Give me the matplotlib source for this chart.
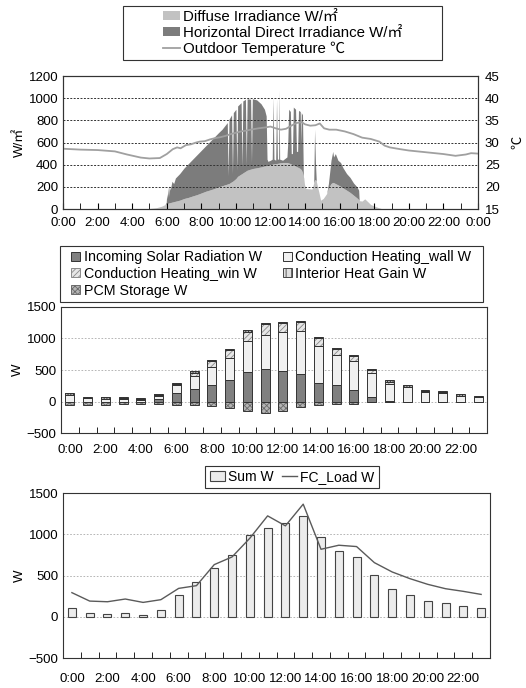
import matplotlib
matplotlib.use("Agg")
import matplotlib.pyplot as plt
from matplotlib.patches import Patch, Rectangle
from matplotlib.lines import Line2D
import numpy as np

plt.rcParams['font.family'] = ['Liberation Sans', 'Noto Sans CJK JP', 'DejaVu Sans']
plt.rcParams['hatch.linewidth'] = 0.6

# ---- panel 1: irradiance (W/m2) and outdoor temperature ----
irr_hour = [0.0, 4.7, 5.0, 5.4, 5.7, 5.9, 5.97, 6.0, 6.03, 6.07, 6.1, 6.15, 6.2, 6.3, 6.4, 6.5,
            6.75, 7.0, 7.25, 7.5, 7.75, 8.0, 8.25, 8.5, 8.75, 9.0, 9.2, 9.4, 9.5, 9.55, 9.6, 9.75,
            9.8, 9.85, 10.0, 10.05, 10.1, 10.3, 10.35, 10.4, 10.55, 10.6, 10.65, 10.85, 10.9, 10.95,
            11.2, 11.45, 11.65, 11.75, 11.8, 11.85, 12.0, 12.1, 12.15, 12.2, 12.3, 12.35, 12.4,
            12.47, 12.5, 12.53, 12.7, 12.95, 13.0, 13.05, 13.15, 13.2, 13.27, 13.32, 13.45, 13.5,
            13.57, 13.62, 13.72, 13.75, 13.78, 13.85, 13.9, 13.97, 14.05, 14.4, 14.5, 14.55, 14.6,
            14.65, 14.8, 14.9, 15.05, 15.25, 15.35, 15.5, 15.6, 15.65, 15.75, 15.9, 16.05, 16.2,
            16.4, 16.6, 16.8, 17.0, 17.1, 17.13, 17.3, 17.45, 17.6, 17.8, 18.2, 18.5, 24.0]
diffuse = [0, 0, 5, 12, 25, 40, 45, 48, 50, 52, 54, 56, 58, 62, 66, 70,
           80, 95, 105, 118, 130, 145, 160, 172, 185, 200, 210, 220, 225, 228, 230, 245,
           250, 255, 275, 285, 295, 315, 320, 325, 340, 345, 350, 360, 362, 365,
           372, 380, 388, 390, 392, 395, 400, 404, 406, 408, 410, 411, 412,
           414, 415, 416, 420, 420, 418, 415, 410, 405, 400, 397, 388, 383,
           378, 374, 365, 360, 355, 330, 290, 220, 185, 180, 235, 260, 265,
           250, 150, 80, 95, 140, 190, 230, 240, 238, 230, 218, 205, 190,
           170, 150, 125, 100, 85, 75, 72, 92, 70, 40, 15, 0, 0]
# top of the direct irradiance band (diffuse + direct)
irr_top = [0, 0, 5, 12, 25, 40, 60, 140, 90, 200, 110, 210, 170, 250, 230, 280,
           320, 370, 410, 450, 490, 530, 570, 610, 650, 690, 720, 760, 780, 300, 810, 850,
           320, 870, 900, 350, 930, 960, 380, 975, 990, 400, 995, 990, 420, 995,
           985, 950, 900, 840, 450, 430, 440, 450, 1010, 450, 440, 990, 450,
           450, 1070, 450, 440, 470, 600, 900, 880, 500, 500, 920, 900, 520,
           520, 890, 880, 600, 870, 850, 300, 220, 185, 180, 235, 720, 420,
           250, 150, 80, 95, 140, 230, 440, 520, 470, 500, 440, 420, 370,
           320, 285, 235, 200, 170, 75, 72, 92, 70, 40, 15, 0, 0]

temp_hour = [0.0, 1.0, 2.0, 3.0, 3.7, 4.5, 5.0, 5.6, 6.0, 6.35, 6.6, 6.8, 7.1, 7.4, 7.7, 7.9,
             8.2, 8.5, 8.8, 9.1, 9.4, 9.7, 10.0, 10.3, 10.6, 11.0, 11.3, 11.7, 12.0, 12.3,
             12.6, 12.9, 13.2, 13.5, 13.8, 14.0, 14.3, 14.6, 14.85, 15.1, 15.4, 15.8, 16.3,
             16.8, 17.3, 17.8, 18.3, 18.6, 18.9, 19.5, 20.0, 21.0, 22.0, 22.7, 23.3, 23.6, 24.0]
temp_out = [28.6, 28.4, 28.3, 28.0, 27.3, 26.6, 26.4, 26.5, 27.4, 28.5, 28.9, 28.7, 29.4, 29.6,
            30.0, 30.2, 30.3, 30.7, 31.0, 31.2, 31.5, 31.9, 32.2, 32.5, 32.7, 33.0, 33.2, 33.4,
            33.6, 33.2, 32.9, 33.1, 33.8, 34.4, 34.6, 34.1, 33.8, 33.9, 34.3, 33.2, 32.9, 32.9,
            32.5, 31.9, 31.1, 30.8, 30.2, 29.3, 28.9, 28.5, 28.2, 27.8, 27.4, 27.0, 27.3, 27.6, 27.5]

# ---- panel 2: hourly heat balance (W) ----
hours = list(range(24))
hour_labels = [f"{h}:00" if h % 2 == 0 else "" for h in hours]
solar_in = [0, 0, 0, 0, 0, 40, 140, 200, 265, 335, 475, 520, 485, 430, 300, 255, 185, 70, 15, 0, 0, 0, 0, 0]
cond_wall = [100, 50, 40, 45, 30, 45, 120, 210, 280, 360, 480, 535, 620, 685, 580, 490, 460, 385, 265, 225, 155, 140, 90, 70]
cond_win = [10, 5, 5, 5, 3, 15, 15, 50, 95, 120, 155, 175, 135, 145, 120, 90, 80, 45, 35, 10, 5, 5, 5, 5]
interior = [25, 20, 20, 20, 20, 20, 20, 20, 20, 25, 25, 20, 25, 25, 20, 20, 20, 20, 20, 25, 25, 25, 22, 20]
pcm_store = [-50, -50, -50, -45, -45, -45, -50, -60, -75, -100, -145, -185, -145, -90, -55, -45, -35, -15, -10, -5, -5, -5, -5, -5]

# ---- panel 3: sum vs FC load (W) ----
sum_w = [101, 40, 32, 40, 24, 85, 259, 421, 595, 753, 996, 1081, 1142, 1219, 972, 798, 721, 502, 336, 267, 190, 170, 126, 101]
fc_load = [292, 190, 182, 215, 174, 207, 344, 377, 632, 725, 952, 1223, 1102, 1365, 818, 867, 851, 656, 543, 462, 393, 340, 308, 271]

W, H = 526, 688
fig = plt.figure(figsize=(W / 100, H / 100), dpi=100)
ax1 = fig.add_axes([0.1198, 0.6962, 0.7889, 0.1933])
ax2 = fig.add_axes([0.116, 0.3706, 0.810, 0.1832])
ax3 = fig.add_axes([0.1198, 0.0436, 0.8118, 0.2398])

fs = 9.5
ec = '#333333'


def legend_frame(x0, y0, x1, y1):
    # legend box drawn at pixel coords of the reference
    fig.patches.append(Rectangle((x0 / W, 1 - y1 / H), (x1 - x0) / W, (y1 - y0) / H,
                                 transform=fig.transFigure, fill=False, edgecolor=ec, lw=0.8))
    return ((x0 + x1) / 2 / W, 1 - (y0 + y1) / 2 / H)


def style_spines(a):
    for s in a.spines.values():
        s.set_linewidth(0.8)
        s.set_color(ec)


# panel 1
diff = np.array(diffuse)
top = np.array(irr_top)
ax1.fill_between(irr_hour, 0, diff, color='#c2c2c2', lw=0)
ax1.fill_between(irr_hour, diff, top, color='#7c7c7c', lw=0)
ax1.set_xlim(0, 24)
ax1.set_ylim(0, 1200)
ax1.set_yticks(range(0, 1201, 200))
ax1.set_xticks(range(0, 25, 2))
ax1.set_xticklabels([f"{h % 24}:00" for h in range(0, 25, 2)])
ax1.set_xticks(range(0, 25), minor=True)
ax1.tick_params(axis='x', which='both', direction='in', length=4, labelsize=fs, pad=6)
ax1.tick_params(axis='y', length=0, labelsize=fs)
for y in range(200, 1201, 200):
    ax1.axhline(y, color='#333333', lw=0.7, ls=(0, (2, 1.5)), zorder=1.5)
ax1.set_ylabel("W/㎡", fontsize=fs, labelpad=2)
ax1t = ax1.twinx()
ax1t.plot(temp_hour, temp_out, color='#a0a0a0', lw=1.3)
ax1t.set_ylim(15, 45)
ax1t.set_yticks(range(15, 46, 5))
ax1t.tick_params(axis='y', length=0, labelsize=fs, pad=5)
ax1t.set_ylabel("℃", fontsize=fs, labelpad=9)
style_spines(ax1)
style_spines(ax1t)

c1 = legend_frame(123, 6, 442, 60)
fig.legend(handles=[Patch(facecolor='#c2c2c2', edgecolor='none', label="Diffuse Irradiance W/㎡"),
                    Patch(facecolor='#7c7c7c', edgecolor='none', label="Horizontal Direct Irradiance W/㎡"),
                    Line2D([], [], color='#a0a0a0', lw=1.3, label="Outdoor Temperature ℃")],
           loc='center', bbox_to_anchor=c1, frameon=False, fontsize=10.8,
           handlelength=1.1, handleheight=0.55, handletextpad=0.2, labelspacing=0.12,
           borderpad=0, borderaxespad=0)

# panel 2
bw = 0.5


def hatched_bar(ax, vals, bottom, face, hatch_col, hatch):
    ax.bar(hours, vals, bw, bottom=bottom, color=face, edgecolor=hatch_col, lw=0, hatch=hatch)
    return ax.bar(hours, vals, bw, bottom=bottom, fill=False, edgecolor=ec, lw=0.7)


pos = np.zeros(24)
ax2.bar(hours, solar_in, bw, bottom=pos, color='#808080', edgecolor=ec, lw=0.7)
pos += np.array(solar_in)
ax2.bar(hours, cond_wall, bw, bottom=pos, color='#f0f0f0', edgecolor=ec, lw=0.7)
pos += np.array(cond_wall)
hatched_bar(ax2, cond_win, pos, '#e6e6e6', '#8a8a8a', '//////')
pos += np.array(cond_win)
hatched_bar(ax2, interior, pos, '#b0b0b0', '#222222', '||||||')
hatched_bar(ax2, pcm_store, 0, '#b4b4b4', '#6a6a6a', 'xxxxxx')

ax2.set_xlim(-0.5, 23.5)
ax2.set_ylim(-500, 1500)
ax2.set_yticks(range(-500, 1501, 500))
ax2.set_xticks(hours)
ax2.set_xticklabels(hour_labels)
ax2.set_xticks(np.arange(-0.5, 24, 1), minor=True)
ax2.tick_params(axis='x', which='major', length=0, labelsize=fs, pad=8)
ax2.tick_params(axis='x', which='minor', direction='in', length=4)
ax2.tick_params(axis='y', length=0, labelsize=fs)
for y in (0, 500, 1000):
    ax2.axhline(y, color='#aaaaaa', lw=0.6, ls=(0, (2, 2)), zorder=0)
ax2.set_ylabel("W", fontsize=fs, labelpad=2)
style_spines(ax2)

h_solar = Patch(facecolor='#808080', edgecolor=ec, lw=0.7)
h_wall = Patch(facecolor='#f0f0f0', edgecolor=ec, lw=0.7)
h_win = Patch(facecolor='#e6e6e6', edgecolor='#8a8a8a', lw=0.7, hatch='//////')
h_int = Patch(facecolor='#e0e0e0', edgecolor='#444444', lw=0.7, hatch='|||')
h_pcm = Patch(facecolor='#b4b4b4', edgecolor='#6a6a6a', lw=0.7, hatch='xxxxxx')
c2 = legend_frame(60, 246, 483, 302)
fig.legend(handles=[h_solar, h_win, h_pcm, h_wall, h_int],
           labels=["Incoming Solar Radiation W", "Conduction Heating_win W", "PCM Storage W",
                   "Conduction Heating_wall W", "Interior Heat Gain W"],
           loc='center', bbox_to_anchor=c2, frameon=False, ncol=2, fontsize=10.3,
           handlelength=0.6, handleheight=0.6, handletextpad=0.25, labelspacing=0.2,
           borderpad=0, borderaxespad=0, columnspacing=1.5)

# panel 3
b_sum = ax3.bar(hours, sum_w, 0.45, color='#ececec', edgecolor='#444444', lw=0.8)
l_fc, = ax3.plot(hours, fc_load, color='#5a5a5a', lw=1.0)
ax3.set_xlim(-0.5, 23.5)
ax3.set_ylim(-500, 1500)
ax3.set_yticks(range(-500, 1501, 500))
ax3.set_xticks(hours)
ax3.set_xticklabels(hour_labels)
ax3.set_xticks(np.arange(-0.5, 24, 1), minor=True)
ax3.tick_params(axis='x', which='major', length=0, labelsize=fs, pad=11)
ax3.tick_params(axis='x', which='minor', direction='in', length=4)
ax3.tick_params(axis='y', length=0, labelsize=fs)
for y in (0, 500, 1000):
    ax3.axhline(y, color='#aaaaaa', lw=0.6, ls=(0, (2, 2)), zorder=0)
ax3.set_ylabel("W", fontsize=fs, labelpad=2)
style_spines(ax3)

c3 = legend_frame(205, 466, 379, 488)
fig.legend(handles=[b_sum, l_fc], labels=["Sum W", "FC_Load W"],
           loc='center', bbox_to_anchor=c3, frameon=False, ncol=2, fontsize=10,
           handlelength=1.1, handleheight=0.7, handletextpad=0.2,
           borderpad=0, borderaxespad=0, columnspacing=0.6)

fig.savefig("out.png", dpi=100)
